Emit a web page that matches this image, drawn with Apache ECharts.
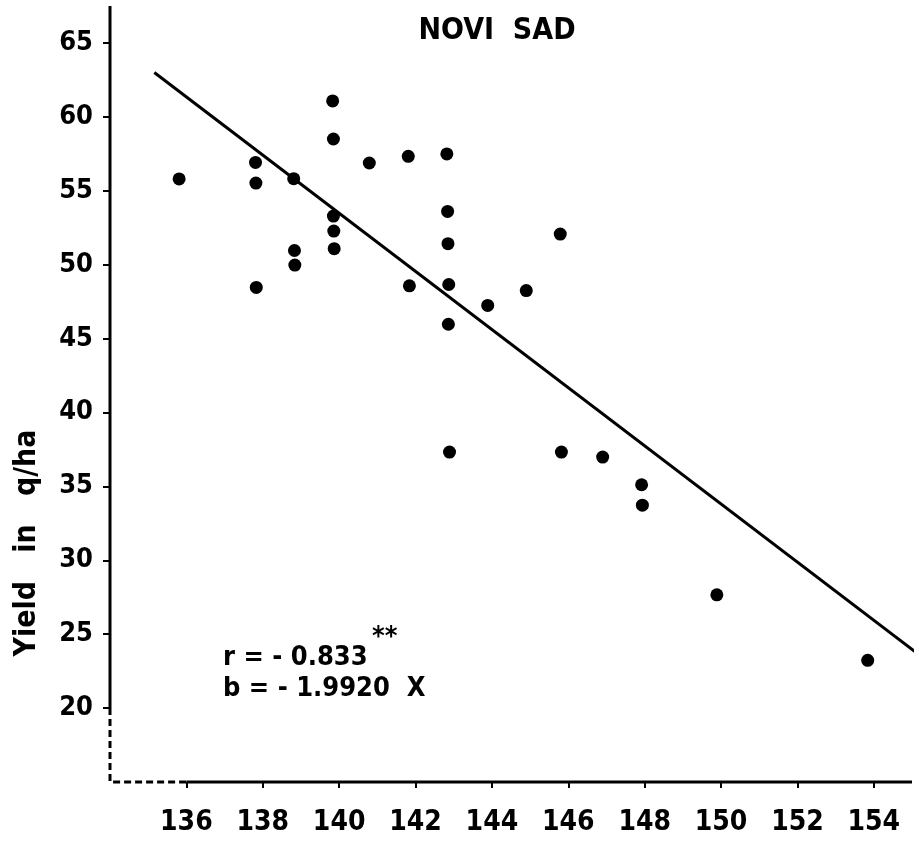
<!DOCTYPE html>
<html>
<head>
<meta charset="utf-8">
<script src="https://cdn.jsdelivr.net/npm/echarts@6/dist/echarts.min.js"></script>
<style>html,body{margin:0;padding:0;background:#fff;}#c{width:919px;height:842px;}</style>
</head>
<body>
<div id="c"></div>
<script>
// Data
const xValues = [135.81, 137.81, 137.82, 137.83, 138.81, 138.83, 138.84, 139.83, 139.85, 139.85, 139.86, 139.87, 140.79, 141.81, 141.84, 142.82, 142.84, 142.85, 142.87, 142.86, 142.89, 143.89, 144.9, 145.79, 145.82, 146.9, 147.92, 147.94, 149.89, 153.84];
const yValues = [55.8, 56.92, 55.52, 48.46, 55.82, 50.96, 49.97, 61.08, 58.5, 53.29, 52.27, 51.08, 56.88, 57.33, 48.57, 57.49, 53.6, 51.42, 48.66, 45.97, 37.32, 47.24, 48.25, 52.07, 37.32, 36.98, 35.11, 33.73, 27.66, 23.23];
const regX = [135.16, 155.15];
const regY = [63.0, 23.68];
const xTicks = [136, 138, 140, 142, 144, 146, 148, 150, 152, 154];
const yTicks = [20, 25, 30, 35, 40, 45, 50, 55, 60, 65];
const xMin = 134, xMax = 155, yMin = 15, yMax = 67.5;
const titleText = 'NOVI  SAD';
const yName = 'Yield   in   q/ha';
const rText = 'r = - 0.833';
const bText = 'b = - 1.9920  X';

const FONT = '"DejaVu Sans Condensed", "DejaVu Sans", sans-serif';
const points = xValues.map((x, i) => [x, yValues[i]]);
const reg = regX.map((x, i) => [x, regY[i]]);

const chart = echarts.init(document.getElementById('c'), null, {renderer: 'canvas'});
const axisSeries = (data, dashed) => ({
  type: 'line', data: data, symbol: 'none', silent: true, clip: false, z: 1,
  lineStyle: {color: '#000', width: 3, type: dashed ? [7, 4] : 'solid'}
});
chart.setOption({
  backgroundColor: '#fff',
  animation: false,
  grid: {left: 110, right: 7, top: 6, bottom: 60, containLabel: false},
  xAxis: {
    type: 'value', min: xMin, max: xMax,
    axisLine: {show: false}, splitLine: {show: false},
    axisTick: {show: true, customValues: xTicks, length: 6, lineStyle: {color: '#000', width: 2}},
    axisLabel: {customValues: xTicks, color: '#000', fontSize: 28, fontWeight: 'bold', fontFamily: FONT, margin: 27}
  },
  yAxis: {
    type: 'value', min: yMin, max: yMax,
    axisLine: {show: false}, splitLine: {show: false},
    axisTick: {show: true, customValues: yTicks, length: 7, lineStyle: {color: '#000', width: 2}},
    axisLabel: {customValues: yTicks, color: '#000', fontSize: 27, fontWeight: 'bold', fontFamily: FONT, margin: 17, padding: [0, 0, 6, 0]}
  },
  graphic: [
    {type: 'text', x: 497, y: 31, style: {text: titleText, font: 'bold 30px ' + FONT, fill: '#000', textAlign: 'center', textVerticalAlign: 'middle'}},
    {type: 'text', x: 27, y: 543, rotation: Math.PI / 2, style: {text: yName, font: 'bold 30px ' + FONT, fill: '#000', textAlign: 'center', textVerticalAlign: 'middle'}},
    {type: 'text', x: 223, y: 658, style: {text: rText, font: 'bold 27px ' + FONT, fill: '#000', textAlign: 'left', textVerticalAlign: 'middle'}},
    {type: 'text', x: 372, y: 638, style: {text: '**', font: 'bold 27px ' + FONT, fill: '#000', textAlign: 'left', textVerticalAlign: 'middle'}},
    {type: 'text', x: 223, y: 689, style: {text: bText, font: 'bold 27px ' + FONT, fill: '#000', textAlign: 'left', textVerticalAlign: 'middle'}}
  ],
  series: [
    axisSeries([[xMin, 20], [xMin, yMax]], false),
    axisSeries([[xMin, 20], [xMin, yMin], [136, yMin]], true),
    axisSeries([[136, yMin], [xMax, yMin]], false),
    {type: 'line', data: reg, symbol: 'none', clip: false, lineStyle: {color: '#000', width: 3}, z: 2},
    {type: 'scatter', data: points, symbol: 'circle', symbolSize: 13, itemStyle: {color: '#000', opacity: 1}, z: 3}
  ]
});
</script>
</body>
</html>
